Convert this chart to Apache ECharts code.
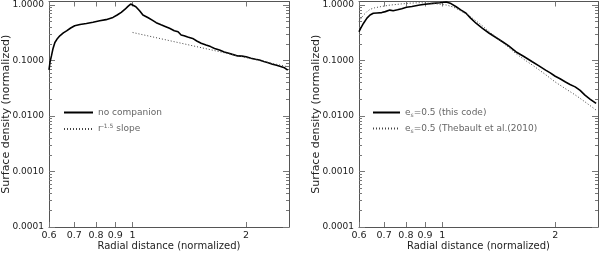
<!DOCTYPE html>
<html>
<head>
<meta charset="utf-8">
<script src="https://cdn.jsdelivr.net/npm/echarts@6/dist/echarts.min.js"></script>
<style>
html,body{margin:0;padding:0;background:#fff;}
#wrap{width:600px;height:253px;position:relative;}
#c1{position:absolute;left:0;top:0;width:300px;height:253px;}
#c2{position:absolute;left:300px;top:0;width:300px;height:253px;}
</style>
</head>
<body>
<div id="wrap"><div id="c1"></div><div id="c2"></div></div>
<script>
// ---- tick labels ----
const xTicks = [0.6, 0.7, 0.8, 0.9, 1, 2];
const yMajor = [0.0001, 0.001, 0.01, 0.1, 1];
const yMinor = [0.0002,0.0003,0.0004,0.0005,0.0006,0.0007,0.0008,0.0009,
                0.002,0.003,0.004,0.005,0.006,0.007,0.008,0.009,
                0.02,0.03,0.04,0.05,0.06,0.07,0.08,0.09,
                0.2,0.3,0.4,0.5,0.6,0.7,0.8,0.9];

// ---- left panel: no companion ----
const leftR = [0.600,0.604,0.609,0.615,0.622,0.632,0.641,0.655,0.668,0.685,0.702,0.725,0.754,0.785,0.818,0.850,0.887,0.910,0.933,0.955,0.972,0.988,1.000,
               1.020,1.045,1.065,1.100,1.130,1.155,1.190,1.220,1.253,1.290,1.320,1.345,1.370,1.400,1.443,1.480,1.520,1.566,1.610,1.650,1.700,1.750,1.800,1.840,1.900,1.950,2.000,2.060,2.120,2.170,2.230,2.290,2.350,2.410,2.470,2.530,2.580];
const leftSigma = [0.068,0.095,0.121,0.165,0.211,0.250,0.279,0.315,0.343,0.385,0.422,0.445,0.466,0.490,0.520,0.545,0.598,0.660,0.737,0.840,0.946,1.040,1.100,
               0.930,0.780,0.660,0.590,0.530,0.480,0.440,0.410,0.380,0.345,0.330,0.288,0.280,0.265,0.250,0.225,0.205,0.190,0.178,0.165,0.154,0.142,0.135,0.129,0.121,0.120,0.117,0.110,0.105,0.102,0.096,0.091,0.086,0.082,0.078,0.074,0.067];
const slopeR = [1.0, 2.58];
const slopeSigma = [0.32, 0.077];

// ---- right panel ----
const rightR = [0.600,0.606,0.617,0.630,0.642,0.655,0.670,0.690,0.705,0.725,0.740,0.760,0.780,0.803,0.830,0.871,0.900,0.944,0.985,1.025,1.055,1.089,1.120,1.157,1.190,1.230,1.280,1.334,1.390,1.447,1.500,1.570,1.650,1.737,1.810,1.885,1.940,2.000,2.060,2.130,2.190,2.260,2.330,2.400,2.480,2.570];
const rightThis = [0.330,0.380,0.470,0.580,0.660,0.710,0.720,0.730,0.760,0.810,0.790,0.820,0.860,0.910,0.940,1.000,1.030,1.070,1.100,1.130,1.060,0.930,0.820,0.710,0.580,0.470,0.380,0.310,0.260,0.218,0.185,0.144,0.118,0.095,0.080,0.067,0.060,0.052,0.047,0.041,0.037,0.0335,0.029,0.0238,0.020,0.0169];
const thebR = [0.600,0.608,0.617,0.630,0.642,0.660,0.683,0.720,0.771,0.820,0.871,0.944,1.025,1.070,1.110,1.160,1.205,1.270,1.334,1.450,1.570,1.650,1.737,1.870,2.000,2.130,2.260,2.400,2.570];
const thebSigma = [0.500,0.580,0.660,0.760,0.835,0.890,0.930,0.990,1.040,1.080,1.100,1.070,1.000,0.920,0.810,0.690,0.575,0.440,0.330,0.210,0.134,0.105,0.083,0.058,0.041,0.031,0.024,0.018,0.0128];

const pairs = (xs, ys) => xs.map((x, i) => [x, ys[i]]);

const FONT = 'DejaVu Sans';
const AXC = '#555';
const lineSt = {color: AXC, width: 1};
const tickSt = {color: '#777', width: 1};

function xAxes() {
  return [
    {type: 'log', logBase: 10, min: 0.6, max: 2.6, position: 'bottom',
     axisLine: {show: true, lineStyle: lineSt}, splitLine: {show: false},
     axisTick: {show: true, inside: true, length: 5, customValues: xTicks, lineStyle: tickSt},
     axisLabel: {customValues: xTicks, margin: 4, color: '#222', fontFamily: FONT, fontSize: 9.5,
                 formatter: v => String(+(+v).toFixed(2))},
     name: 'Radial distance (normalized)', nameLocation: 'middle', nameGap: 14, nameMoveOverlap: false,
     nameTextStyle: {color: '#222', fontFamily: FONT, fontSize: 10}},
    {type: 'log', logBase: 10, min: 0.6, max: 2.6, position: 'top',
     axisLine: {show: true, lineStyle: lineSt}, splitLine: {show: false},
     axisTick: {show: true, inside: true, length: 5, customValues: xTicks, lineStyle: tickSt},
     axisLabel: {show: false}}
  ];
}
function yAxes() {
  const base = {type: 'log', logBase: 10, min: 0.0001, max: 1.157,
                splitLine: {show: false}, minorTick: {show: false}};
  return [
    Object.assign({}, base, {position: 'left', axisLine: {show: true, lineStyle: lineSt},
      axisTick: {show: true, inside: true, length: 6, customValues: yMajor, lineStyle: tickSt},
      axisLabel: {customValues: yMajor, margin: 5, color: '#222', fontFamily: FONT, fontSize: 9,
                  formatter: v => (+v).toFixed(4)},
      name: 'Surface density (normalized)', nameLocation: 'middle', nameGap: 37, nameMoveOverlap: false,
      nameTextStyle: {color: '#222', fontFamily: FONT, fontSize: 11}}),
    Object.assign({}, base, {position: 'left', axisLine: {show: false},
      axisTick: {show: true, inside: true, length: 3, customValues: yMinor, lineStyle: tickSt},
      axisLabel: {show: false}}),
    Object.assign({}, base, {position: 'right', axisLine: {show: true, lineStyle: lineSt},
      axisTick: {show: true, inside: true, length: 6, customValues: yMajor, lineStyle: tickSt},
      axisLabel: {show: false}}),
    Object.assign({}, base, {position: 'right', axisLine: {show: false},
      axisTick: {show: true, inside: true, length: 3, customValues: yMinor, lineStyle: tickSt},
      axisLabel: {show: false}})
  ];
}

const legendText = {color: '#666', fontFamily: FONT, fontSize: 9,
  rich: {
    a: {color: '#666', fontFamily: FONT, fontSize: 9},
    sup: {color: '#666', fontFamily: FONT, fontSize: 6, verticalAlign: 'top', padding: [0, 0, 6, 0]},
    sub: {color: '#666', fontFamily: FONT, fontSize: 6, padding: [5, 0, 0, 0]}
  }};

function makeChart(el, gridLeft, gridRight, legendLeft, itemW, s1, s2, names, fmt) {
  const chart = echarts.init(document.getElementById(el), null, {renderer: 'canvas'});
  chart.setOption({
    animation: false,
    backgroundColor: '#fff',
    grid: {left: gridLeft, right: gridRight, top: 1.5, bottom: 26, show: false, outerBoundsMode: 'none'},
    xAxis: xAxes(),
    yAxis: yAxes(),
    legend: {data: names, orient: 'vertical', left: legendLeft, top: 108, padding: 0,
      itemWidth: itemW, itemHeight: 10, itemGap: 6, textStyle: legendText,
      itemStyle: {opacity: 0}, formatter: fmt},
    series: [
      {name: names[0], type: 'line', data: s1, symbol: 'none', showSymbol: false,
       lineStyle: {color: '#000', width: 1.6}, itemStyle: {color: '#000'}},
      {name: names[1], type: 'line', data: s2, symbol: 'none', showSymbol: false,
       lineStyle: {color: '#444', width: 1, type: [1, 2]}, itemStyle: {color: '#444'}}
    ]
  });
  return chart;
}

makeChart('c1', 49, 11, 63, 29, pairs(leftR, leftSigma), pairs(slopeR, slopeSigma),
  ['no companion', 'r-1.5 slope'],
  n => n === 'r-1.5 slope' ? '{a|r}{sup|-1.5}{a| slope}' : '{a|' + n + '}');
makeChart('c2', 59, 2, 72, 27, pairs(rightR, rightThis), pairs(thebR, thebSigma),
  ['es=0.5 (this code)', 'es=0.5 (Thebault et al.(2010)'],
  n => '{a|e}{sub|s}{a|' + n.slice(2) + '}');
</script>
</body>
</html>
